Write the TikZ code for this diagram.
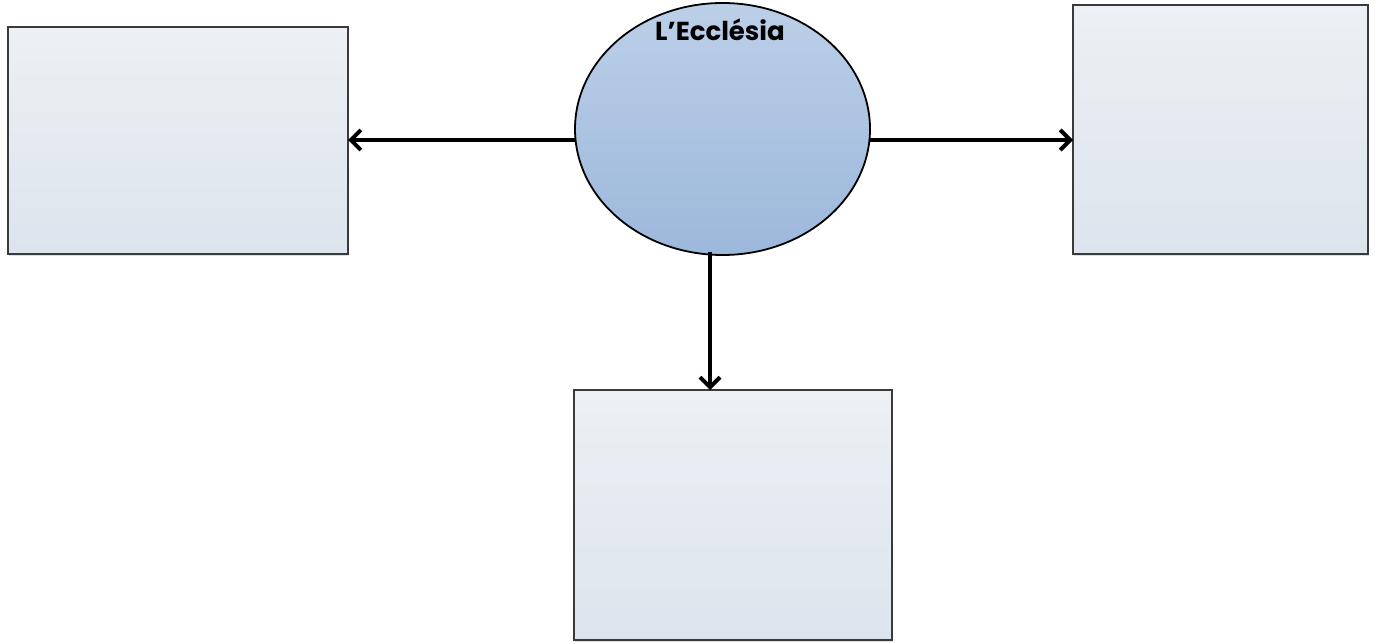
\documentclass[tikz,border=0pt]{standalone}
\usepackage{fontspec}
\setmainfont{Poppins}
\usetikzlibrary{shapes.geometric,arrows.meta,shadows}
\definecolor{boxtop}{HTML}{EDF0F4}
\definecolor{boxbot}{HTML}{DCE4ED}
\definecolor{elltop}{HTML}{BCCFE8}
\definecolor{ellbot}{HTML}{9CB8DB}
\definecolor{edge}{HTML}{3A3A3A}
\tikzset{
  emptybox/.style={draw=edge, line width=2.4pt, inner sep=0pt, outer sep=0pt,
    top color=boxtop, bottom color=boxbot, anchor=north west,
    drop shadow={shadow xshift=1pt, shadow yshift=-2pt, opacity=0.25}},
  centreell/.style={ellipse, draw=black, line width=1.8pt, inner sep=0pt, outer sep=0pt,
    top color=elltop, bottom color=ellbot},
  linkarrow/.style={line width=4pt, -{Straight Barb[length=10pt,width=20pt,line width=4pt]}},
}
\begin{document}
\begin{tikzpicture}[x=1pt,y=-1pt]
\useasboundingbox (0,0) rectangle (1375,644);
\node[emptybox, minimum width=340pt, minimum height=227pt] (left) at (8,27) {};
\node[emptybox, minimum width=295pt, minimum height=249pt] (right) at (1073,5) {};
\node[emptybox, minimum width=318pt, minimum height=250pt] (bottom) at (574,390) {};
\node[centreell, minimum width=295pt, minimum height=252pt] (church) at (722.5,129) {};
\node[font=\bfseries\fontsize{26}{30}\selectfont, anchor=north, inner sep=0pt] (title) at (720,19) {L’Ecclésia};
\coordinate (lstart) at (575,140);
\coordinate (rstart) at (870,140);
\coordinate (dstart) at (710,252);
\draw[linkarrow] (lstart) -- (lstart -| left.east);
\draw[linkarrow] (rstart) -- (rstart -| right.west);
\draw[linkarrow] (dstart) -- (dstart |- bottom.north);
\end{tikzpicture}
\end{document}
